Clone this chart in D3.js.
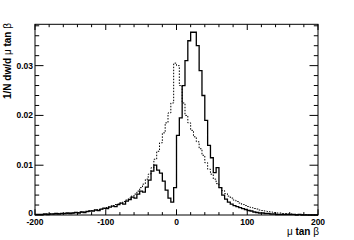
<!DOCTYPE html>
<html><head><meta charset="utf-8">
<script src="https://cdn.jsdelivr.net/npm/d3@7"></script>
<style>body{margin:0;background:#fff}svg{display:block}text{font-family:"Liberation Sans",Arial,sans-serif}</style>
</head><body>
<script>
// Histogram: 100 bins of width 4 from -200 to 200
const binEdgesStart = -200, binWidth = 4;
const solidValues = [
 0.0001,0.0001,0.0001,0.0002,0.0001,0.0002,0.0002,0.0003,0.0002,0.0003,
 0.0003,0.0004,0.0003,0.0004,0.0005,0.0004,0.0006,0.0005,0.0007,0.0008,
 0.0008,0.0010,0.0009,0.0012,0.0014,0.0013,0.0016,0.0018,0.0017,0.0021,
 0.0024,0.0022,0.0028,0.0031,0.0036,0.0034,0.0042,0.0048,0.0046,0.0056,
 0.0070,0.0088,0.0100,0.0090,0.0084,0.0068,0.0050,0.0034,0.0026,0.0055,
 0.0160,0.0195,0.0260,0.0310,0.0350,0.0367,0.0367,0.0340,0.0290,0.0240,
 0.0190,0.0140,0.0115,0.0085,0.0095,0.0055,0.0040,0.0032,0.0026,0.0022,
 0.0019,0.0017,0.0015,0.0013,0.0011,0.0009,0.0008,0.0006,0.0005,0.0004,
 0.0004,0.0003,0.0003,0.0002,0.0002,0.0001,0.0001,0.0001,0.0001,0.0001,
 0.0001,0.0001,0.0000,0.0001,0.0000,0.0000,0.0000,0.0000,0.0000,0.0000
];
const dottedValues = [
 0.0001,0.0001,0.0001,0.0001,0.0002,0.0002,0.0002,0.0002,0.0003,0.0003,
 0.0003,0.0003,0.0004,0.0004,0.0005,0.0005,0.0006,0.0006,0.0007,0.0008,
 0.0009,0.0010,0.0011,0.0012,0.0013,0.0015,0.0017,0.0019,0.0021,0.0022,
 0.0024,0.0027,0.0030,0.0034,0.0038,0.0042,0.0048,0.0055,0.0062,0.0072,
 0.0082,0.0095,0.0112,0.0128,0.0145,0.0165,0.0185,0.0205,0.0225,0.0305,
 0.0300,0.0260,0.0225,0.0200,0.0185,0.0170,0.0157,0.0147,0.0133,0.0120,
 0.0105,0.0092,0.0082,0.0072,0.0063,0.0055,0.0049,0.0043,0.0038,0.0034,
 0.0030,0.0027,0.0024,0.0021,0.0019,0.0017,0.0015,0.0013,0.0012,0.0010,
 0.0009,0.0008,0.0007,0.0006,0.0005,0.0004,0.0004,0.0003,0.0003,0.0002,
 0.0002,0.0001,0.0001,0.0001,0.0001,0.0001,0.0000,0.0000,0.0000,0.0000
];
const xTickLabels = [-200,-100,0,100,200];
const yTickLabels = [0,0.01,0.02,0.03];

const W=354,H=240;
const svg=d3.select("body").append("svg").attr("width",W).attr("height",H);
const x=d3.scaleLinear().domain([-200,200]).range([35,318]);
const y=d3.scaleLinear().domain([0,0.0383]).range([215,24.3]);

function pts(vals){
  const p=vals.map((v,i)=>[binEdgesStart+i*binWidth,v]);
  p.push([binEdgesStart+vals.length*binWidth,vals[vals.length-1]]);
  return p;
}
const line=d3.line().x(d=>x(d[0])).y(d=>y(d[1])).curve(d3.curveStepAfter);

svg.append("path").attr("d",line(pts(dottedValues))).attr("fill","none")
  .attr("stroke","#000").attr("stroke-width",1).attr("stroke-dasharray","1.5,1.5");
svg.append("path").attr("d",line(pts(solidValues))).attr("fill","none")
  .attr("stroke","#000").attr("stroke-width",1.3);

// frame
svg.append("rect").attr("x",35).attr("y",24.3).attr("width",318-35).attr("height",215-24.3)
  .attr("fill","none").attr("stroke","#000").attr("stroke-width",1);

const xMinor=d3.range(-200,201,20), yMinor=d3.range(0,0.0381,0.002);
const g=svg.append("g").attr("stroke","#000").attr("stroke-width",1);
xMinor.forEach(v=>{
  const major=xTickLabels.includes(v), L=major?5.7:2.9;
  g.append("line").attr("x1",x(v)).attr("x2",x(v)).attr("y1",215).attr("y2",215-L);
  g.append("line").attr("x1",x(v)).attr("x2",x(v)).attr("y1",24.3).attr("y2",24.3+L);
});
yMinor.forEach((v,i)=>{
  const major=(i%5===0), L=major?8.5:4.2;
  g.append("line").attr("y1",y(v)).attr("y2",y(v)).attr("x1",35).attr("x2",35+L);
  g.append("line").attr("y1",y(v)).attr("y2",y(v)).attr("x1",318).attr("x2",318-L);
});

const fs=8.5;
svg.selectAll(".xl").data(xTickLabels).enter().append("text")
  .attr("x",d=>x(d)).attr("y",224.5).attr("text-anchor","middle")
  .attr("font-size",fs).attr("font-weight","bold").text(d=>d);
svg.selectAll(".yl").data(yTickLabels).enter().append("text")
  .attr("x",33).attr("y",d=>d===0?y(d)+1:y(d)+3).attr("text-anchor","end")
  .attr("font-size",fs).attr("font-weight","bold").text(d=>d===0?"0":d.toFixed(2));

// axis titles
const xt=svg.append("text").attr("x",319).attr("y",235).attr("text-anchor","end")
  .attr("font-size",10).attr("font-weight","bold");
xt.append("tspan").attr("font-weight","normal").text("μ");
xt.append("tspan").text(" tan ");
xt.append("tspan").attr("font-weight","normal").text("β");

const yt=svg.append("text").attr("transform","translate(11,23) rotate(-90)").attr("text-anchor","end")
  .attr("font-size",10).attr("font-weight","bold");
yt.append("tspan").text("1/N dw/d ");
yt.append("tspan").attr("font-weight","normal").text("μ");
yt.append("tspan").text(" tan ");
yt.append("tspan").attr("font-weight","normal").text("β");
</script>
</body></html>
